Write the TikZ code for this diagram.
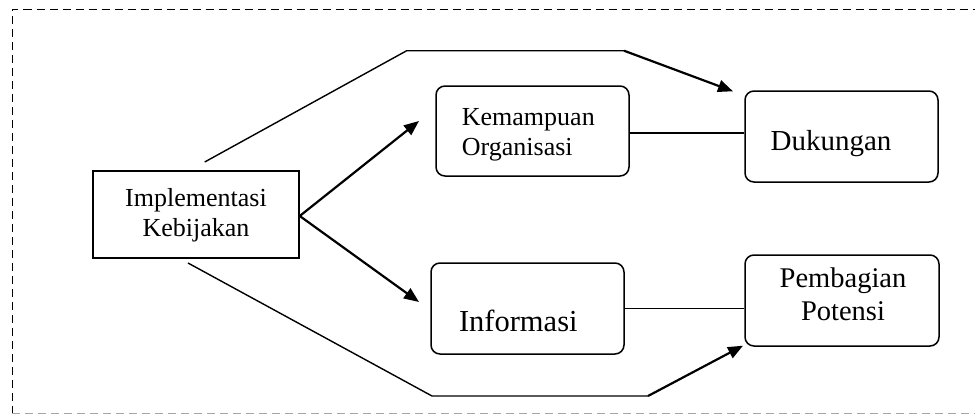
\documentclass[tikz,border=0pt]{standalone}
\usepackage{fontspec}
\setmainfont{Liberation Serif}
\usetikzlibrary{arrows.meta,calc}
\tikzset{
  x=1pt,y=-1pt,
  rbox/.style={draw,line width=1.5pt,rounded corners=9pt,inner sep=0pt},
  sbox/.style={draw,line width=1.5pt,inner sep=0pt},
  lbl/.style={anchor=base,inner sep=0pt,align=center},
  plain/.style={line width=1.4pt},
  arr/.style={line width=2.2pt,-{Triangle[length=15pt,width=12pt]}},
  frame/.style={line width=1pt,dash pattern=on 8pt off 5pt}
}
\begin{document}
\begin{tikzpicture}
\useasboundingbox (0,0) rectangle (975,415);
% frame
\draw[frame] (12,413.5) -- (12,9) -- (975,9);
\draw[frame,gray!70] (12,413.5) -- (975,413.5);
% boxes
\node[sbox,minimum width=206pt,minimum height=87pt] (impl) at (196,214.5) {};
\node[rbox,minimum width=193pt,minimum height=90pt] (kem) at (532.5,131) {};
\node[rbox,minimum width=193pt,minimum height=91pt] (duk) at (841.5,136.5) {};
\node[rbox,minimum width=193pt,minimum height=91pt] (info) at (527.5,308.5) {};
\node[rbox,minimum width=194pt,minimum height=91pt] (pemb) at (842,300.5) {};
% texts (multi-line: base = last line baseline)
\node[lbl,font=\fontsize{26}{30}\selectfont] (implt) at (196,236.7) {Implementasi\\Kebijakan};
\node[lbl,font=\fontsize{26}{30}\selectfont,align=left,anchor=base west] (kemt) at (461.7,155) {Kemampuan\\Organisasi};
\node[lbl,font=\fontsize{29}{33}\selectfont] (dukt) at (831,150) {Dukungan};
\node[lbl,font=\fontsize{30.5}{34}\selectfont] (infot) at (518.3,331.7) {Informasi};
\node[lbl,font=\fontsize{28.5}{32.7}\selectfont] (pembt) at (843,320) {Pembagian\\Potensi};
% connector points
\coordinate (t0) at (204.7,162);
\coordinate (t1) at (406.7,50.7);
\coordinate (t2) at (624,50.7);
\coordinate (t3) at (733,91.3);
\coordinate (b0) at (188,263);
\coordinate (b1) at (432,396);
\coordinate (b2) at (648,396);
\coordinate (b3) at (743,345.7);
\coordinate (k0) at (419,121);
\coordinate (i0) at (419,302);
% connectors
\draw[plain] (t0) -- (t1) -- (t2);
\draw[arr] (t2) -- (t3);
\draw[plain] (b0) -- (b1) -- (b2);
\draw[arr] (b2) -- (b3);
\draw[arr] ([yshift=-1.5pt]impl.east) -- (k0);
\draw[arr] ([yshift=-1.5pt]impl.east) -- (i0);
\draw[plain] ([yshift=-1.8pt]kem.east) -- ([yshift=-1.8pt]kem.east -| duk.west);
\draw[plain] (info.east) -- (info.east -| pemb.west);
\end{tikzpicture}
\end{document}
